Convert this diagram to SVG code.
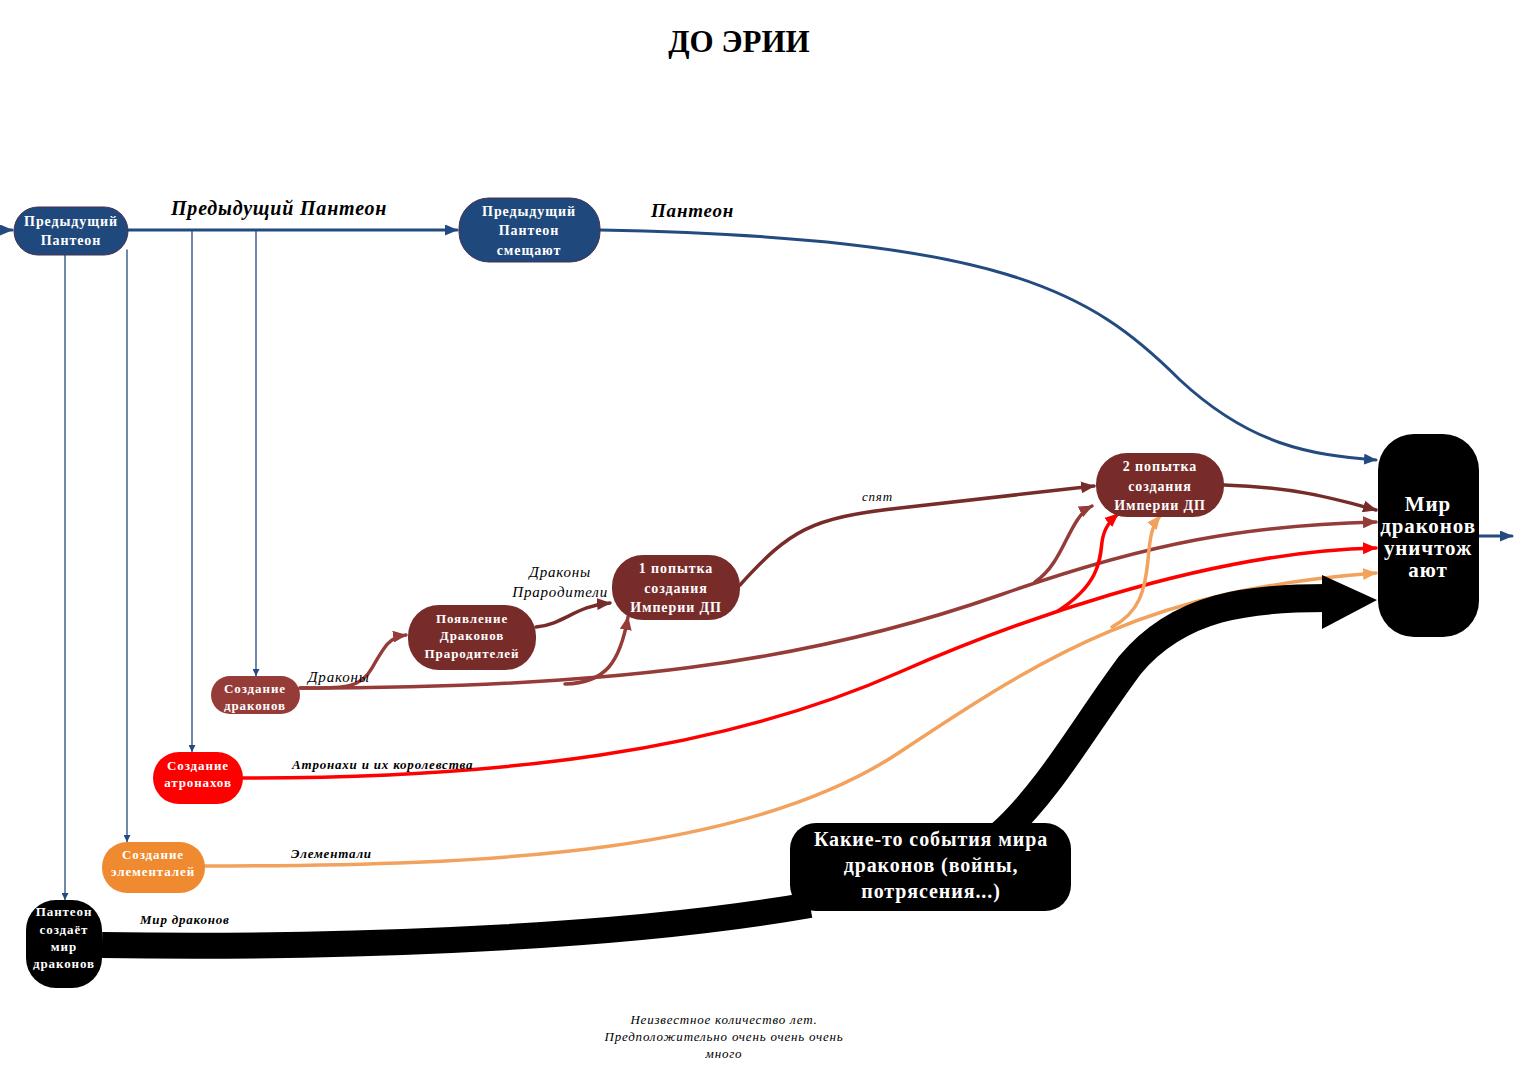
<svg xmlns="http://www.w3.org/2000/svg" width="1514" height="1073" viewBox="0 0 1514 1073">
<style>
.nt{font-family:"Liberation Serif","Times New Roman",serif;font-weight:bold;fill:#fff;text-anchor:middle;letter-spacing:0.9px}
.lb{font-family:"Liberation Serif","Times New Roman",serif;font-style:italic;fill:#000;letter-spacing:0.8px}
.c{fill:none;stroke-linecap:round}
.blue{stroke:#234b80;stroke-width:3}
.thin{stroke:#234b80;stroke-width:1.3}
.br{stroke:#772c2a;stroke-width:3.5}
.br2{stroke:#953c38;stroke-width:3.5}
.red{stroke:#ff0000;stroke-width:3.5}
.or{stroke:#f2a25c;stroke-width:3.5}
</style>
<defs>
<marker id="mBlue" markerUnits="userSpaceOnUse" markerWidth="13" markerHeight="11" refX="12" refY="5.5" orient="auto"><path d="M0,0 L13,5.5 L0,11 z" fill="#234b80"/></marker>
<marker id="mThin" markerUnits="userSpaceOnUse" markerWidth="7" markerHeight="7" refX="7" refY="3.5" orient="auto"><path d="M0,0 L7,3.5 L0,7 z" fill="#234b80"/></marker>
<marker id="mBr" markerUnits="userSpaceOnUse" markerWidth="14" markerHeight="12" refX="13" refY="6" orient="auto"><path d="M0,0 L14,6 L0,12 z" fill="#772c2a"/></marker>
<marker id="mBr2" markerUnits="userSpaceOnUse" markerWidth="14" markerHeight="12" refX="13" refY="6" orient="auto"><path d="M0,0 L14,6 L0,12 z" fill="#953c38"/></marker>
<marker id="mRed" markerUnits="userSpaceOnUse" markerWidth="14" markerHeight="12" refX="13" refY="6" orient="auto"><path d="M0,0 L14,6 L0,12 z" fill="#ff0000"/></marker>
<marker id="mOr" markerUnits="userSpaceOnUse" markerWidth="14" markerHeight="12" refX="13" refY="6" orient="auto"><path d="M0,0 L14,6 L0,12 z" fill="#f2a25c"/></marker>
</defs>
<rect width="1514" height="1073" fill="#fff"/>
<text x="739" y="52" font-family="Liberation Serif, Times New Roman, serif" font-weight="bold" font-size="31" text-anchor="middle">ДО ЭРИИ</text>

<g id="connectors">
<path class="c blue" d="M0,230 L12,230" marker-end="url(#mBlue)"/>
<path class="c blue" d="M128,230 L457,230" marker-end="url(#mBlue)"/>
<path class="c blue" d="M600,230 C1000,238 1090,290 1180,380 C1250,445 1310,455 1376,460" marker-end="url(#mBlue)"/>
<path class="c blue" d="M1479,536 L1512,536" marker-end="url(#mBlue)"/>
<path class="c thin" d="M65,255 L65,900" marker-end="url(#mThin)"/>
<path class="c thin" d="M127,250 L127,842" marker-end="url(#mThin)"/>
<path class="c thin" d="M192,230 L192,752" marker-end="url(#mThin)"/>
<path class="c thin" d="M256,230 L256,676" marker-end="url(#mThin)"/>

<path class="c br2" d="M300,688 C340,688 360,690 372,668 C385,645 390,637 406,635" marker-end="url(#mBr2)"/>
<path class="c br2" d="M300,688 C600,688 800,665 1000,595 C1150,542 1250,525 1376,522" marker-end="url(#mBr2)"/>
<path class="c br2" d="M565,684 C606,683 620,662 628,617" marker-end="url(#mBr2)"/>
<path class="c br2" d="M1035,582 C1065,562 1068,518 1092,506" marker-end="url(#mBr2)"/>
<path class="c br" d="M536,627 C565,624 575,606 610,603" marker-end="url(#mBr)"/>
<path class="c br" d="M740,585 C790,530 810,518 900,508 L1094,486" marker-end="url(#mBr)"/>
<path class="c br" d="M1224,485 C1290,487 1330,497 1376,510" marker-end="url(#mBr)"/>

<path class="c red" d="M243,778 C500,778 720,752 900,672 C1000,628 1200,552 1376,548" marker-end="url(#mRed)"/>
<path class="c red" d="M1058,611 C1098,585 1100,562 1102,542 C1104,528 1110,521 1118,514" marker-end="url(#mRed)"/>
<path class="c or" d="M205,866 C500,866 750,852 900,752 C1050,652 1150,590 1376,573" marker-end="url(#mOr)"/>
<path class="c or" d="M1112,627 C1140,612 1145,590 1148,560 C1150,536 1152,526 1160,516" marker-end="url(#mOr)"/>

<path d="M102,945 C300,948 600,942 810,905" fill="none" stroke="#000" stroke-width="26"/>
<path d="M1000,835 C1050,790 1085,725 1130,665 C1180,605 1250,598 1326,598" fill="none" stroke="#000" stroke-width="28"/>
<path d="M1322,575 L1377,600 L1322,629 z" fill="#000"/>
</g>

<g id="labels">
<text class="lb" x="171" y="215" font-size="20" font-weight="bold">Предыдущий Пантеон</text>
<text class="lb" x="651" y="217" font-size="19" font-weight="bold" letter-spacing="1.6">Пантеон</text>
<text class="lb" x="308" y="682" font-size="15">Драконы</text>
<text class="lb" x="591" y="577" font-size="15" text-anchor="end">Драконы</text>
<text class="lb" x="608" y="597" font-size="15" text-anchor="end">Прародители</text>
<text class="lb" x="862" y="501" font-size="13">спят</text>
<text class="lb" x="292" y="769" font-size="13" font-weight="bold">Атронахи и их королевства</text>
<text class="lb" x="291" y="858" font-size="13" font-weight="bold">Элементали</text>
<text class="lb" x="140" y="924" font-size="13" font-weight="bold">Мир драконов</text>
<text class="lb" x="724" y="1024" font-size="13" text-anchor="middle" letter-spacing="0.6">Неизвестное количество лет.</text>
<text class="lb" x="724" y="1041" font-size="13" text-anchor="middle" letter-spacing="0.6">Предположительно очень очень очень</text>
<text class="lb" x="724" y="1058" font-size="13" text-anchor="middle" letter-spacing="0.6">много</text>
</g>

<g id="n1"><rect x="14" y="207" width="114" height="48" rx="24" fill="#1f497d" stroke="#4a3050" stroke-width="1"/>
<text class="nt" font-size="14"><tspan x="71" y="226">Предыдущий</tspan><tspan x="71" y="245">Пантеон</tspan></text></g>
<g id="n2"><rect x="459" y="198" width="141" height="64" rx="30" fill="#1f497d" stroke="#4a3050" stroke-width="1"/>
<text class="nt" font-size="14"><tspan x="529" y="216">Предыдущий</tspan><tspan x="529" y="235">Пантеон</tspan><tspan x="529" y="255">смещают</tspan></text></g>
<g id="n3"><rect x="211" y="676" width="89" height="38" rx="19" fill="#953c38"/>
<text class="nt" font-size="13"><tspan x="255" y="693">Создание</tspan><tspan x="255" y="710">драконов</tspan></text></g>
<g id="n4"><rect x="408" y="605" width="128" height="65" rx="31" fill="#772c2a"/>
<text class="nt" font-size="13"><tspan x="472" y="623">Появление</tspan><tspan x="472" y="640">Драконов</tspan><tspan x="472" y="658">Прародителей</tspan></text></g>
<g id="n5"><rect x="612" y="555" width="128" height="65" rx="31" fill="#772c2a"/>
<text class="nt" font-size="14"><tspan x="676" y="573">1 попытка</tspan><tspan x="676" y="593">создания</tspan><tspan x="676" y="612">Империи ДП</tspan></text></g>
<g id="n6"><rect x="1096" y="453" width="128" height="64" rx="31" fill="#772c2a"/>
<text class="nt" font-size="14"><tspan x="1160" y="471">2 попытка</tspan><tspan x="1160" y="491">создания</tspan><tspan x="1160" y="510">Империи ДП</tspan></text></g>
<g id="n7"><rect x="153" y="752" width="90" height="52" rx="26" fill="#ff0000"/>
<text class="nt" font-size="13"><tspan x="198" y="770">Создание</tspan><tspan x="198" y="787">атронахов</tspan></text></g>
<g id="n8"><rect x="102" y="842" width="103" height="51" rx="25" fill="#f08a30"/>
<text class="nt" font-size="13"><tspan x="153" y="859">Создание</tspan><tspan x="153" y="876">элементалей</tspan></text></g>
<g id="n9"><rect x="26" y="900" width="76" height="88" rx="30" fill="#000"/>
<text class="nt" font-size="13" letter-spacing="0"><tspan x="64" y="916">Пантеон</tspan><tspan x="64" y="934">создаёт</tspan><tspan x="64" y="951">мир</tspan><tspan x="64" y="968">драконов</tspan></text></g>
<g id="n10"><rect x="1378" y="434" width="101" height="203" rx="36" fill="#000"/>
<text class="nt" font-size="21" letter-spacing="0.3"><tspan x="1428" y="511">Мир</tspan><tspan x="1428" y="533">драконов</tspan><tspan x="1428" y="555">уничтож</tspan><tspan x="1428" y="577">ают</tspan></text></g>
<g id="n11"><rect x="790" y="823" width="281" height="88" rx="26" fill="#000"/>
<text class="nt" font-size="20" letter-spacing="0.7"><tspan x="931" y="846">Какие-то события мира</tspan><tspan x="931" y="872">драконов (войны,</tspan><tspan x="931" y="898">потрясения...)</tspan></text></g>
</svg>
